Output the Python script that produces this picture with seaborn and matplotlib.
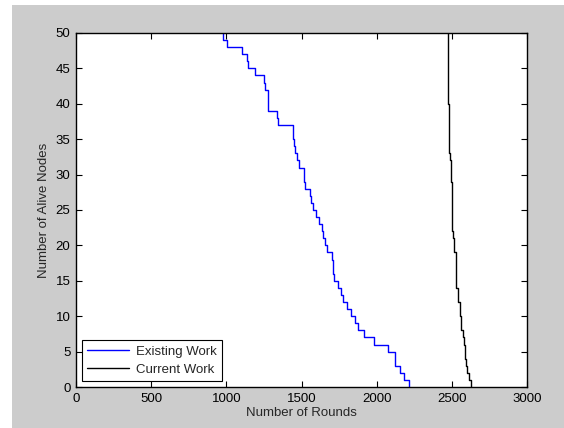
import matplotlib
matplotlib.use("Agg")
import matplotlib.pyplot as plt
import seaborn as sns
import pandas as pd
from matplotlib.patches import Rectangle

# Existing Work: round at which the alive count changes, and new alive count
existing_rounds = [978, 978, 1006, 1104, 1135, 1143, 1192, 1250, 1256, 1279, 1338, 1345,
                   1442, 1451, 1460, 1472, 1483, 1515, 1524, 1555, 1564, 1575, 1595,
                   1617, 1635, 1643, 1657, 1668, 1703, 1710, 1719, 1745, 1760, 1778,
                   1805, 1827, 1853, 1874, 1918, 1985, 2075, 2119, 2157, 2185, 2218]
existing_alive = [50, 49, 48, 47, 46, 45, 44, 43, 42, 39, 38, 37,
                  35, 34, 33, 32, 31, 29, 28, 27, 26, 25, 24,
                  23, 22, 21, 20, 19, 18, 16, 15, 14, 13, 12,
                  11, 10, 9, 8, 7, 6, 5, 3, 2, 1, 0]

# Current Work
current_rounds = [2477, 2477, 2484, 2486, 2493, 2500, 2510, 2517, 2526, 2539, 2555,
                  2562, 2573, 2580, 2588, 2596, 2603, 2617, 2628]
current_alive = [50, 40, 33, 32, 29, 22, 21, 19, 14, 12, 10,
                 8, 7, 6, 4, 3, 2, 1, 0]

x_ticks = [0, 500, 1000, 1500, 2000, 2500, 3000]
y_ticks = [0, 5, 10, 15, 20, 25, 30, 35, 40, 45, 50]

df_e = pd.DataFrame({"Rounds": existing_rounds, "Alive": existing_alive})
df_c = pd.DataFrame({"Rounds": current_rounds, "Alive": current_alive})

sns.set_style("ticks")
plt.rcParams['font.family'] = ['Liberation Sans', 'DejaVu Sans']

fig = plt.figure(figsize=(5.64, 4.28), dpi=100, facecolor="white")
fig.patches.append(Rectangle((12/564, 0), 1 - 12/564, 1 - 5/428, transform=fig.transFigure,
                             facecolor="#cccccc", edgecolor="none", zorder=-10))
ax = fig.add_axes([76/564, 1 - 387/428, (527 - 76)/564, (387 - 33)/428])
ax.set_facecolor("white")

sns.lineplot(data=df_e, x="Rounds", y="Alive", ax=ax, color="#0000ff", lw=1.0,
             drawstyle="steps-post", estimator=None, sort=False, label="Existing Work")
sns.lineplot(data=df_c, x="Rounds", y="Alive", ax=ax, color="black", lw=1.0,
             drawstyle="steps-post", estimator=None, sort=False, label="Current Work")

ax.set_xlim(0, 3000)
ax.set_ylim(0, 50)
ax.set_xticks(x_ticks)
ax.set_yticks(y_ticks)
ax.tick_params(direction="in", length=4, width=0.8, top=True, right=True,
               labelsize=9.5, colors="black", pad=4)
for s in ax.spines.values():
    s.set_visible(True)
    s.set_color("black")
    s.set_linewidth(1.0)
    s.set_zorder(10)
ax.set_xlabel("Number of Rounds", fontsize=9.5, labelpad=2)
ax.set_ylabel("Number of Alive Nodes", fontsize=9.5, labelpad=4)

leg = ax.legend(loc="lower left", fontsize=9.5, frameon=True, fancybox=False,
                handlelength=3.2, borderaxespad=0.45, borderpad=0.4, labelspacing=0.45,
                handletextpad=0.5)
leg.get_frame().set_edgecolor("black")
leg.get_frame().set_linewidth(0.8)
leg.get_frame().set_alpha(1)
leg.set_zorder(20)

fig.savefig("out.png", dpi=100, facecolor=fig.get_facecolor())
